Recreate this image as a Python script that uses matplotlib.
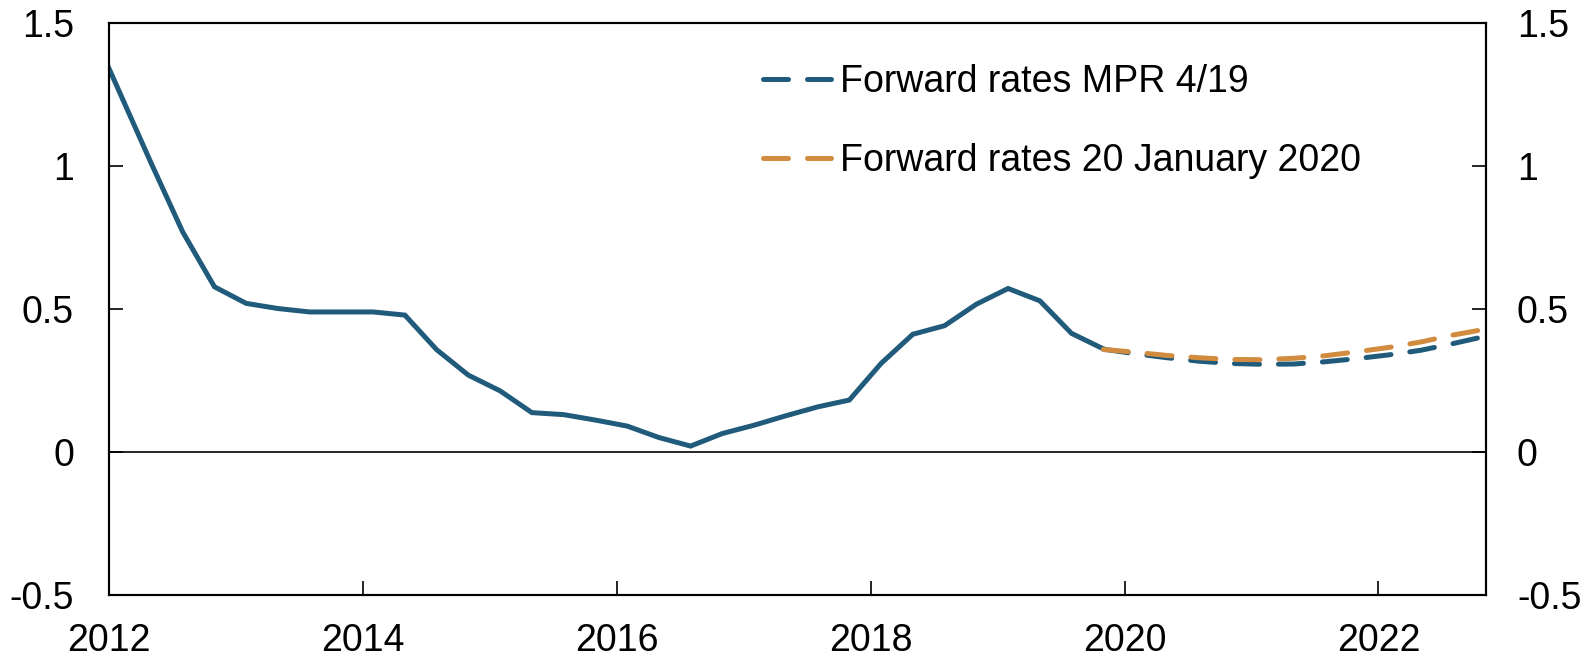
import matplotlib
matplotlib.use("Agg")
from matplotlib import pyplot as plt

BLUE = "#215b7b"
ORANGE = "#d18c3f"

# decimal years (first of Feb/May/Aug/Nov)
hist_x = [2012.0, 2012.333, 2012.583, 2012.833, 2013.083, 2013.333, 2013.583, 2013.833,
          2014.083, 2014.333, 2014.583, 2014.833, 2015.083, 2015.333, 2015.583, 2015.833,
          2016.083, 2016.333, 2016.583, 2016.833, 2017.083, 2017.333, 2017.583, 2017.833,
          2018.083, 2018.333, 2018.583, 2018.833, 2019.083, 2019.333, 2019.583, 2019.833]
hist_y = [1.345, 1.013, 0.771, 0.579, 0.521, 0.503, 0.491, 0.491,
          0.491, 0.480, 0.359, 0.270, 0.215, 0.139, 0.132, 0.113,
          0.092, 0.052, 0.022, 0.066, 0.095, 0.128, 0.159, 0.183,
          0.311, 0.413, 0.443, 0.518, 0.573, 0.530, 0.416, 0.362]

fwd_x = [2019.833, 2020.083, 2020.333, 2020.583, 2020.833, 2021.083, 2021.333,
         2021.583, 2021.833, 2022.083, 2022.333, 2022.583, 2022.833]
fwd_mpr = [0.361, 0.345, 0.331, 0.319, 0.311, 0.308, 0.309,
           0.317, 0.328, 0.341, 0.357, 0.380, 0.405]
fwd_jan = [0.360, 0.350, 0.339, 0.331, 0.325, 0.324, 0.329,
           0.338, 0.352, 0.367, 0.386, 0.410, 0.430]

x_ticks = [2012, 2014, 2016, 2018, 2020, 2022]
y_ticks = [-0.5, 0, 0.5, 1, 1.5]
y_labels = ["-0.5", "0", "0.5", "1", "1.5"]

plt.rcParams['font.family'] = ['Liberation Sans', 'DejaVu Sans']
FS = 27

fig = plt.figure(figsize=(15.93, 6.57), dpi=100)
ax = fig.add_axes([0.0682, 0.0938, 0.8649, 0.8706])

lw = 3.6
ax.axhline(0, color="black", lw=1.2, zorder=1)
ax.plot(hist_x, hist_y, color=BLUE, lw=lw, solid_joinstyle="miter", zorder=3)
ax.plot(fwd_x, fwd_mpr, color=BLUE, lw=lw, ls=(0, (5, 3.8)), dash_capstyle="round",
        label="Forward rates MPR 4/19", zorder=3)
ax.plot(fwd_x, fwd_jan, color=ORANGE, lw=lw, ls=(0, (5, 3.8)), dash_capstyle="round",
        label="Forward rates 20 January 2020", zorder=4)

ax.set_xlim(2012, 2022.85)
ax.set_ylim(-0.5, 1.5)
ax.set_xticks(x_ticks)
ax.set_xticklabels([str(t) for t in x_ticks])
ax.set_yticks(y_ticks)
ax.set_yticklabels(y_labels)

ax.tick_params(axis="x", direction="in", length=10, width=1.2, labelsize=FS, pad=20)
ax.tick_params(axis="y", direction="in", length=10, width=1.2, labelsize=FS, pad=25)
for s in ax.spines.values():
    s.set_linewidth(1.5)

# right-hand axis, same scale
ax2 = ax.twinx()
ax2.set_ylim(-0.5, 1.5)
ax2.set_yticks(y_ticks)
ax2.set_yticklabels(y_labels)
ax2.tick_params(axis="y", direction="in", length=10, width=1.2, labelsize=FS, pad=22)
for s in ax2.spines.values():
    s.set_linewidth(1.5)

leg = ax.legend(loc="upper left", bbox_to_anchor=(0.4505, 0.988), frameon=False,
                fontsize=FS, handlelength=1.8, handletextpad=0.25, labelspacing=1.15)

fig.savefig("out.png", dpi=100)
